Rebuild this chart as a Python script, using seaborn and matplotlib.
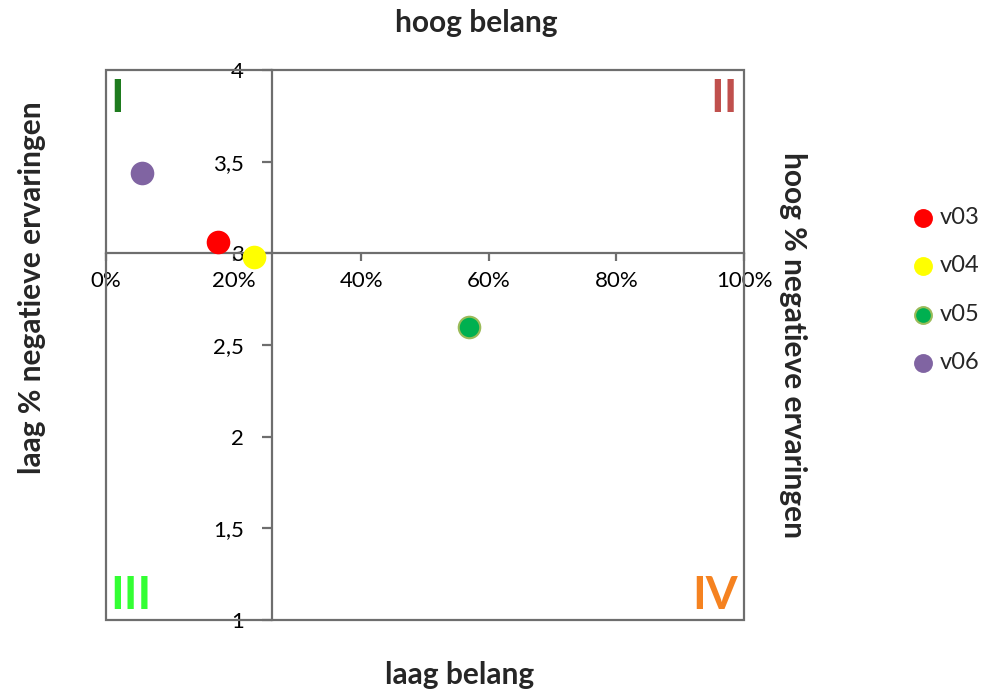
import matplotlib
matplotlib.use("Agg")
import matplotlib.pyplot as plt
import seaborn as sns
import pandas as pd
from matplotlib.patches import Rectangle

series = ["v03", "v04", "v05", "v06"]
x_vals = [0.176, 0.232, 0.569, 0.056]
y_vals = [3.06, 2.98, 2.60, 3.44]
colors = ["#FF0000", "#FFFF00", "#00B050", "#8064A2"]
edges = ["#FF0000", "#FFFF00", "#9BBB59", "#8064A2"]
x_ticks = [0, 0.2, 0.4, 0.6, 0.8, 1.0]
x_ticklabels = ["0%", "20%", "40%", "60%", "80%", "100%"]
y_ticks = [1, 1.5, 2, 2.5, 3, 3.5, 4]
y_ticklabels = ["1", "1,5", "2", "2,5", "3", "3,5", "4"]
quadrants = ["I", "II", "III", "IV"]
quad_colors = ["#1E7B1E", "#C0504D", "#33FF33", "#F58220"]

sns.set_theme(style="white")
plt.rcParams["font.family"] = ["Lato", "DejaVu Sans"]

df = pd.DataFrame({"serie": series, "x": x_vals, "y": y_vals})

fig = plt.figure(figsize=(9.86, 6.91), dpi=100)
ax = fig.add_axes([106/986, 1-620/691, (744-106)/986, (620-70)/691])

line_c = "#6E6E6E"
for i, s in enumerate(series):
    sub = df[df["serie"] == s]
    sns.scatterplot(data=sub, x="x", y="y", ax=ax, color=colors[i], edgecolor=edges[i],
                    linewidth=1.5, s=240, label=s, zorder=5, clip_on=False)

ax.set_xlim(0, 1)
ax.set_ylim(1, 4)
ax.set_xlabel("")
ax.set_ylabel("")

for sp in ["top", "right"]:
    ax.spines[sp].set_visible(False)
ax.spines["left"].set_position(("data", 0.26))
ax.spines["bottom"].set_position(("data", 3))
for sp in ["left", "bottom"]:
    ax.spines[sp].set_color(line_c)
    ax.spines[sp].set_linewidth(1.6)
ax.set_xticks(x_ticks)
ax.set_xticklabels(x_ticklabels)
ax.set_yticks(y_ticks)
ax.set_yticklabels(y_ticklabels)
ax.add_patch(Rectangle((0, 0), 1, 1, transform=ax.transAxes, fill=False,
                       edgecolor=line_c, linewidth=1.6, zorder=3, clip_on=False))
ax.tick_params(axis="x", direction="out", length=6, width=1.6, color=line_c, pad=7,
               bottom=True, labelsize=16, labelcolor="black")
ax.tick_params(axis="y", direction="out", length=7, width=1.6, color=line_c, pad=13,
               left=True, labelsize=16, labelcolor="black")

# Quadrant numerals
qfont = dict(fontsize=33, fontweight="bold", transform=ax.transAxes, zorder=4)
ax.text(0.006, 0.985, quadrants[0], color=quad_colors[0], ha="left", va="top", **qfont)
ax.text(0.99, 0.985, quadrants[1], color=quad_colors[1], ha="right", va="top", **qfont)
ax.text(0.006, 0.005, quadrants[2], color=quad_colors[2], ha="left", va="bottom", **qfont)
ax.text(0.99, 0.005, quadrants[3], color=quad_colors[3], ha="right", va="bottom", **qfont)

# Axis titles
tfont = dict(fontsize=21.5, fontweight="bold", ha="center", va="center")
fig.text(476/986, 1-23/691, "hoog belang", **tfont)
fig.text(460/986, 1-675/691, "laag belang", **tfont)
fig.text(32/986, 1-288/691, "laag % negatieve ervaringen", rotation=90, **tfont)
fig.text(793/986, 1-345/691, "hoog % negatieve ervaringen", rotation=-90, **tfont)

ax.legend_.remove()
handles, labels = ax.get_legend_handles_labels()
leg = fig.legend(handles, labels, loc="upper left", bbox_to_anchor=(909/986, 1-207/691),
                 frameon=False, fontsize=17, labelspacing=1.16, handletextpad=0.1,
                 markerscale=0.78, handlelength=1.2, borderpad=0, borderaxespad=0)

fig.savefig("out.png", dpi=100)
